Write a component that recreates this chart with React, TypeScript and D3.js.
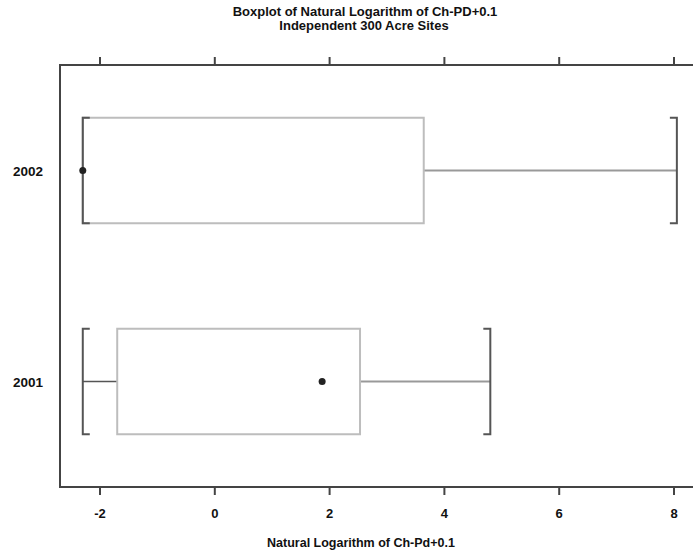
import React from "react";
import * as d3 from "d3";

const categories = ["2002", "2001"];
const mins = [-2.3, -2.3];
const q1s = [-2.3, -1.7];
const medians = [-2.3, 1.87];
const q3s = [3.64, 2.53];
const maxs = [8.05, 4.8];
const xTicks = [-2, 0, 2, 4, 6, 8];

const W = 693;
const H = 552;
const FONT = "'Liberation Sans', Arial, sans-serif";

export default function App() {
  const x = d3.scaleLinear().domain([-2, 8]).range([100, 674]);
  const y = d3.scaleBand().domain(categories).range([65, 487]).paddingInner(0.5).paddingOuter(0.25);
  const left = 60, top = 65, bottom = 487, right = 700;
  const boxes = categories.map((c, i) => ({
    c, min: mins[i], q1: q1s[i], med: medians[i], q3: q3s[i], max: maxs[i],
  }));
  const cap = 7;
  return (
    <div style={{ position: "absolute", left: 0, top: 0 }}>
      <svg width={W} height={H} style={{ display: "block", background: "#fff" }} fontFamily={FONT}>
        <text x={365} y={16} textAnchor="middle" fontSize={13} fontWeight="bold" fill="#111">
          Boxplot of Natural Logarithm of Ch-PD+0.1
        </text>
        <text x={364} y={30} textAnchor="middle" fontSize={13} fontWeight="bold" fill="#111">
          Independent 300 Acre Sites
        </text>
        {/* frame */}
        <path d={`M${right},${top}H${left}V${bottom}H${right}`} fill="none" stroke="#444" strokeWidth={2} />
        {xTicks.map((t) => (
          <g key={t}>
            <line x1={x(t)} x2={x(t)} y1={bottom} y2={bottom + 8} stroke="#444" strokeWidth={2} />
            <line x1={x(t)} x2={x(t)} y1={top} y2={top - 8} stroke="#444" strokeWidth={2} />
            <text x={x(t)} y={518} textAnchor="middle" fontSize={13} fontWeight="bold" fill="#111">
              {t}
            </text>
          </g>
        ))}
        <text x={361} y={547} textAnchor="middle" fontSize={12.5} fontWeight="bold" fill="#111">
          Natural Logarithm of Ch-Pd+0.1
        </text>
        {boxes.map((b) => {
          const y0 = y(b.c)!;
          const y1 = y0 + y.bandwidth();
          const ym = (y0 + y1) / 2;
          return (
            <g key={b.c}>
              <text x={43} y={ym + 5} textAnchor="end" fontSize={13.5} fontWeight="bold" fill="#111">
                {b.c}
              </text>
              {/* whiskers */}
              <line x1={x(b.min)} x2={x(b.q1)} y1={ym} y2={ym} stroke="#555" strokeWidth={1.5} />
              <line x1={x(b.q3)} x2={x(b.max)} y1={ym} y2={ym} stroke="#999" strokeWidth={2} />
              {/* box */}
              <rect x={x(b.q1)} y={y0} width={x(b.q3) - x(b.q1)} height={y1 - y0} fill="none" stroke="#bdbdbd" strokeWidth={2} />
              {/* brackets */}
              <path d={`M${x(b.min) + cap},${y0}H${x(b.min)}V${y1}H${x(b.min) + cap}`} fill="none" stroke="#555" strokeWidth={2} />
              <path d={`M${x(b.max) - cap},${y0}H${x(b.max)}V${y1}H${x(b.max) - cap}`} fill="none" stroke="#555" strokeWidth={2} />
              <circle cx={x(b.med)} cy={ym} r={3.5} fill="#222" />
            </g>
          );
        })}
      </svg>
    </div>
  );
}
